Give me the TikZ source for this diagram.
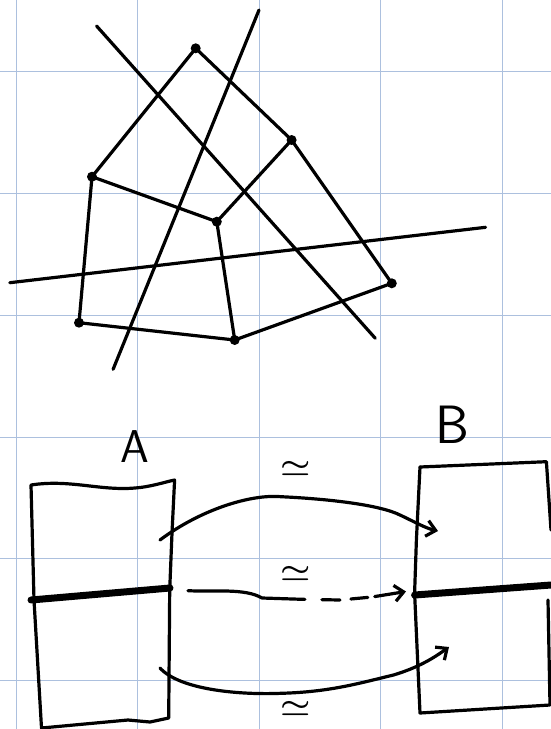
\documentclass[tikz,border=0pt]{standalone}
\usetikzlibrary{arrows.meta}
\definecolor{gridblue}{RGB}{172,192,222}
\begin{document}
\begin{tikzpicture}[x=1pt,y=-1pt,
  pen/.style={line width=3.2pt, line cap=round, line join=round, black},
  thickpen/.style={line width=7pt, line cap=round, black},
  gridline/.style={line width=1pt, gridblue},
  vdot/.style={circle, fill=black, inner sep=0pt, minimum size=10pt},
  bigletter/.style={font=\sffamily\fontsize{46}{46}\selectfont, inner sep=0pt},
  eqlabel/.style={inner sep=0pt}
]
\tikzset{barb/.style={-{Straight Barb[length=9pt,width=16pt,line width=3.2pt]}}}
\newcommand{\eqsym}{\scalebox{3.4}[2.8]{\boldmath$\simeq$}}
\useasboundingbox (0,0) rectangle (551,729);
\fill[white] (0,0) rectangle (551,729);
% grid
\foreach \gx in {16,137.5,259,380.5,502} \draw[gridline] (\gx,0) -- (\gx,729);
\foreach \gy in {71,193,315,437,558,680} \draw[gridline] (0,\gy) -- (551,\gy);

% ---------- upper figure ----------
\coordinate (v1) at (195.7,48.3);
\coordinate (v2) at (291.6,140);
\coordinate (v3) at (391.8,283.3);
\coordinate (v4) at (234.7,340);
\coordinate (v5) at (79,322.7);
\coordinate (v6) at (92,176.7);
\coordinate (v7) at (216.8,221.7);
\draw[pen] (v1) -- (v2) -- (v3) -- (v4) -- (v5) -- (v6) -- cycle;
\draw[pen] (v6) -- (v7) -- (v2);
\draw[pen] (v7) -- (v4);
\foreach \v in {v1,v2,v3,v4,v5,v6,v7} \node[vdot] (d\v) at (\v) {};

\coordinate (l1a) at (96.6,26);
\coordinate (l1b) at (375.3,338.3);
\coordinate (l2a) at (259,10);
\coordinate (l2b) at (113.1,369.3);
\coordinate (l3a) at (9.8,282.7);
\coordinate (l3b) at (485.6,227.3);
\draw[pen] (l1a) -- (l1b);
\draw[pen] (l2a) -- (l2b);
\draw[pen] (l3a) -- (l3b);

% ---------- lower figure ----------
\node[bigletter] (labA) at (135,447) {A};
\node[bigletter, font=\sffamily\fontsize{54}{54}\selectfont] (labB) at (452,425) {B};

% box A
\coordinate (a1) at (31,485);
\coordinate (a2) at (174.6,480);
\coordinate (a3) at (168.7,718);
\coordinate (a4) at (41.5,728);
\draw[pen] (a1) .. controls (70,479) and (100,491) .. (135,488) .. controls (150,487) and (165,482) .. (a2)
  -- (172,533) -- (169.7,590) -- (a3) -- (150,722) -- (128,720) -- (a4) -- (34,600) -- cycle;
\draw[thickpen] (31,600) -- (170,588);

% box B
\coordinate (b1) at (420,467);
\coordinate (b2) at (546.4,461.7);
\coordinate (b3) at (550,705);
\coordinate (b4) at (420,713);
\draw[pen] (b1) -- (b2) -- (551,530);
\draw[pen] (548,600) -- (b3) -- (b4) -- (414.6,593) -- (416.4,540) -- (b1);
\draw[thickpen] (414.6,595) -- (551,585);

% arrows
\coordinate (t1s) at (160,540);
\coordinate (t1e) at (438,531);
\draw[pen, barb] (t1s) .. controls (200,510) and (250,494) .. (281,496.7)
  .. controls (330,499) and (380,505) .. (400,515) .. controls (415,522) and (425,528) .. (t1e);

\coordinate (m1s) at (188,590.7);
\coordinate (m1e) at (406,591.5);
\draw[pen, barb, dash pattern=on 118pt off 17pt on 18pt off 11pt on 17pt off 7pt on 80pt]
  (m1s) .. controls (215,592) and (245,588) .. (262,598) -- (302,599.3) -- (340,600) -- (372,597) -- (m1e);

\coordinate (bs) at (160,668);
\coordinate (be) at (449,647);
\draw[pen, barb] (bs) .. controls (180,690) and (240,695) .. (281,693.3)
  .. controls (330,692) and (360,683) .. (393.5,675) .. controls (420,667) and (435,657) .. (be);

% labels
\node[eqlabel] (eqtop) at (296,468) {\eqsym};
\node[eqlabel] (eqmid) at (296,573) {\eqsym};
\node[eqlabel] (eqbot) at (296,708) {\eqsym};
\end{tikzpicture}
\end{document}
